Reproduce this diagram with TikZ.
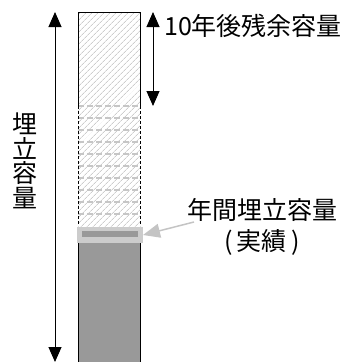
\documentclass[tikz,border=0pt]{standalone}
\usepackage{fontspec}
\newfontfamily\jpfont{Noto Sans CJK JP}
\usetikzlibrary{arrows.meta,patterns.meta}
\definecolor{fillgray}{HTML}{999999}
\definecolor{bandgray}{HTML}{CCCCCC}
\definecolor{pointgray}{HTML}{C4C4C4}
\tikzset{
  measure/.style={line width=1pt, {Triangle[length=15pt,width=13pt]}-{Triangle[length=15pt,width=13pt]}},
  jptext/.style={font=\jpfont\fontsize{25}{31}\selectfont, inner sep=0pt, align=center},
  hatch/.style={pattern={Lines[angle=45,distance=4pt,line width=0.6pt]}, pattern color=gray!60},
}
\begin{document}
\begin{tikzpicture}[x=1pt,y=-1pt]
		\useasboundingbox (0,0) rectangle (345,362);
		\clip (0,0) rectangle (345,362);
		
		% remaining part, hatched
		\fill[hatch] (78,12) rectangle (140,226);
		\foreach \y in {106,118,...,214}
			\draw[gray!45, line width=2pt, dash pattern=on 6pt off 3pt] (78,\y) -- (140,\y);
		\draw[line width=1pt] (78,106) -- (78,12) -- (140,12) -- (140,106);
		\draw[line width=0.8pt, dash pattern=on 3pt off 2pt] (78,106) -- (78,226) (140,106) -- (140,226);
		
		% filled part
		\fill[fillgray] (78,243) rectangle (140,370);
		\draw[line width=1pt] (78,243) -- (78,370) (140,243) -- (140,370);
		\fill[bandgray] (77,227) rectangle (143,243);
		\fill[fillgray] (82,231) rectangle (138,237);
		
		\coordinate (total top) at (55,12);
		\coordinate (total bottom) at (55,362);
		\coordinate (rest top) at (153,12);
		\coordinate (rest bottom) at (153,106);
		\coordinate (band east) at (143,235);
		\coordinate (annual start) at (194,222);
		
		\draw[measure] (total top) -- (total bottom);
		\draw[measure] (rest top) -- (rest bottom);
		\draw[pointgray, line width=1.5pt, -{Triangle[length=17pt,width=14pt]}] (annual start) -- (band east);
		
		\node[jptext, font=\jpfont\fontsize{25}{24.5}\selectfont] (total) at (25,161) {埋\\立\\容\\量};
		\node[jptext, anchor=west] (rest) at (164,26) {10年後残余容量};
		\node[jptext] (annual) at (262,227) {年間埋立容量\\(\,実績\,)};
		
		\end{tikzpicture}
\end{document}
